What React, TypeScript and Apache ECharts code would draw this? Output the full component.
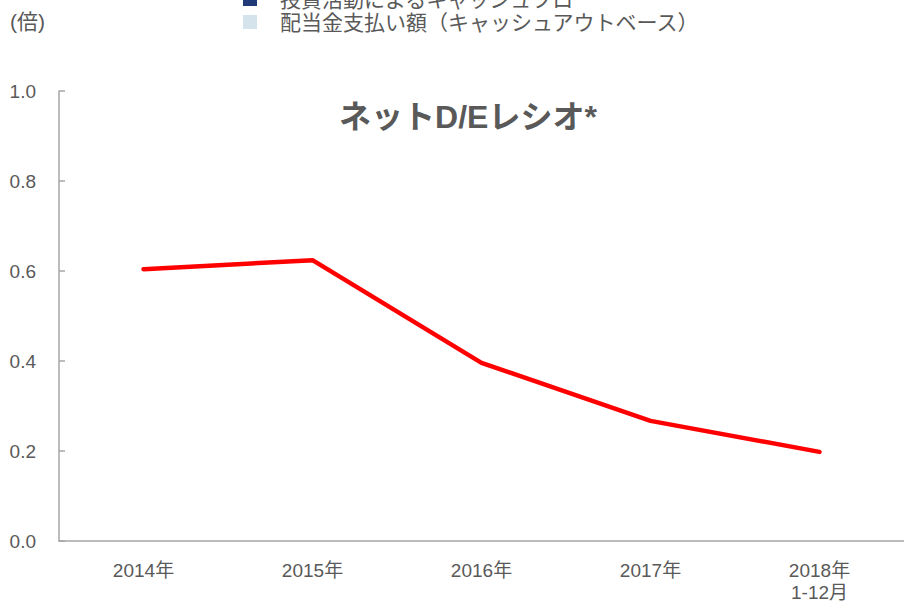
import React, { useEffect, useRef } from "react";
import * as echarts from "echarts";

const categories = ["2014年", "2015年", "2016年", "2017年", "2018年\n1-12月"];
const netDERatio = [0.604, 0.624, 0.396, 0.267, 0.198];
const legendItems = ["投資活動によるキャッシュフロー", "配当金支払い額（キャッシュアウトベース）"];
const legendColors = ["#1f3a77", "#d4e3ec"];
const titleText = "ネットD/Eレシオ*";
const unitText = "(倍)";

const FONT = "'Liberation Sans', Arial, 'Noto Sans CJK JP', sans-serif";
const GRAY = "#595959";

export default function App() {
  const ref = useRef<HTMLDivElement>(null);
  useEffect(() => {
    if (!ref.current) return;
    const chart = echarts.init(ref.current, null, { renderer: "svg" });
    chart.setOption({
      animation: false,
      textStyle: { fontFamily: FONT },
      grid: { left: 59, right: 0, top: 91, bottom: 62, containLabel: false, outerBoundsMode: "none" },
      xAxis: {
        type: "category",
        data: categories,
        boundaryGap: true,
        axisLine: { lineStyle: { color: "#a6a6a6", width: 1.5 } },
        axisTick: { inside: true, length: 6, lineStyle: { color: "#a6a6a6", width: 1.5 } },
        axisLabel: { color: GRAY, fontSize: 19, margin: 18, lineHeight: 22, fontFamily: FONT },
      },
      yAxis: {
        type: "value",
        min: 0,
        max: 1,
        interval: 0.2,
        splitLine: { show: false },
        axisLine: { show: true, lineStyle: { color: "#a6a6a6", width: 1.5 } },
        axisTick: { show: true, inside: true, length: 6, lineStyle: { color: "#a6a6a6", width: 1.5 } },
        axisLabel: {
          color: GRAY,
          fontSize: 19,
          margin: 23,
          fontFamily: FONT,
          formatter: (v: number) => v.toFixed(1),
        },
      },
      series: [
        {
          type: "line",
          data: netDERatio,
          symbol: "none",
          lineStyle: { color: "#ff0000", width: 4.5, cap: "round", join: "round" },
        },
      ],
      graphic: [
        {
          type: "text",
          left: 10,
          top: 11,
          style: { text: unitText, fill: GRAY, font: `21px ${FONT}` },
        },
        {
          type: "text",
          x: 468,
          y: 117,
          style: {
            text: titleText,
            fill: GRAY,
            font: `bold 32px ${FONT}`,
            textAlign: "center",
            textVerticalAlign: "middle",
          },
        },
        ...legendItems.flatMap((t, i) => [
          {
            type: "rect",
            shape: { x: 243, y: -8 + i * 23, width: 14, height: 14 },
            style: { fill: legendColors[i] },
          },
          {
            type: "text",
            x: 280,
            y: -1 + i * 23,
            style: {
              text: t,
              fill: GRAY,
              font: `21px ${FONT}`,
              textVerticalAlign: "middle",
            },
          },
        ]),
      ],
    });
    return () => chart.dispose();
  }, []);
  return <div ref={ref} style={{ width: 904, height: 603, position: "absolute", left: 0, top: 0 }} />;
}
